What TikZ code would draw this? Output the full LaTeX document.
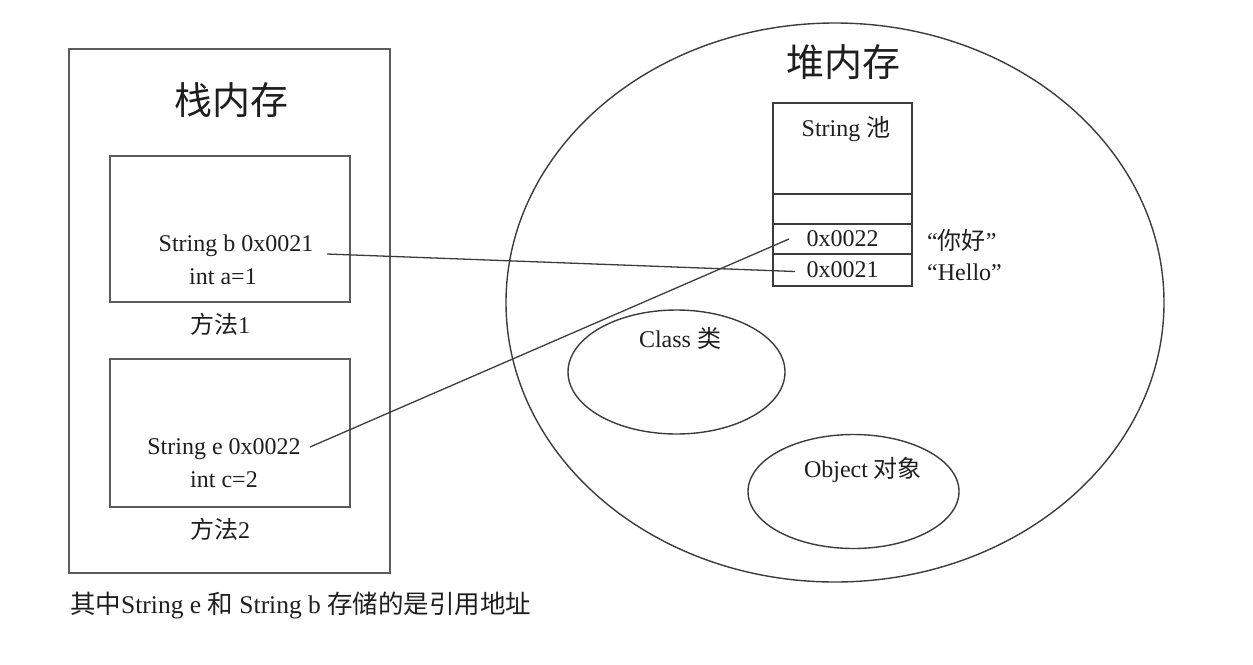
\documentclass[tikz,border=0pt]{standalone}
\usepackage{fontspec}
\setmainfont{Liberation Serif}
\newfontfamily\cjk{Noto Sans CJK SC}
\usetikzlibrary{shapes.geometric}
\definecolor{boxline}{HTML}{5C5C5C}
\definecolor{inkline}{HTML}{3C3C3C}
\definecolor{ink}{HTML}{1E1E1E}

\begin{document}
\begin{tikzpicture}[x=1pt,y=-1pt,
  frame/.style={draw=boxline, line width=2pt, inner sep=0pt},
  cell/.style={draw=inkline, line width=1.4pt, inner sep=0pt, minimum width=139pt,
               font=\fontsize{24}{28}\selectfont, text=ink},
  region/.style={ellipse, draw=inkline, line width=1.4pt, inner sep=0pt},
  txt/.style={inner sep=0pt, text=ink, font=\fontsize{24}{28}\selectfont},
  title/.style={inner sep=0pt, text=ink, font=\cjk\fontsize{38}{44}\selectfont},
  link/.style={draw=inkline, line width=1.3pt}]
\useasboundingbox (0,0) rectangle (1253,664);

% stack memory
\node[frame, minimum width=321pt, minimum height=524pt] (stack) at (229.5,311) {};
\node[title] (stacktitle) at (231,100) {栈内存};
\node[frame, minimum width=240pt, minimum height=146pt] (m1) at (230,229) {};
\node[txt] (sb) at (236,246) {String b 0x0021};
\node[txt] (ia) at (223,277) {int a=1};
\node[txt] (m1name) at (220,324) {{\cjk 方法}1};
\node[frame, minimum width=240pt, minimum height=148pt] (m2) at (230,433) {};
\node[txt] (se) at (224,449) {String e 0x0022};
\node[txt] (ic) at (224,480) {int c=2};
\node[txt] (m2name) at (220,529) {{\cjk 方法}2};

% heap memory
\node[region, minimum width=658pt, minimum height=559pt] (heap) at (835,302.5) {};
\node[title] (heaptitle) at (843,62) {堆内存};

% string pool
\node[cell, minimum height=91pt] (pool) at (842.5,148.5) {};
\node[txt] (pooltitle) at (846,129) {String {\cjk 池}};
\node[cell, minimum height=30pt] (slot) at (842.5,209) {};
\node[cell, minimum height=30pt] (r22) at (842.5,239) {0x0022};
\node[cell, minimum height=32pt] (r21) at (842.5,270) {0x0021};
\node[txt, anchor=west] (nihao) at (927,240) {“{\cjk 你好}”};
\node[txt, anchor=west] (hello) at (927,272) {“Hello”};

% class and object areas
\node[region, minimum width=217pt, minimum height=124pt] (cls) at (676.5,372) {};
\node[txt] (clstext) at (680,338) {Class {\cjk 类}};
\node[region, minimum width=211pt, minimum height=114pt] (obj) at (853.5,491.5) {};
\node[txt] (objtext) at (863,470) {Object {\cjk 对象}};

% references from the stack into the pool
\coordinate (bfrom) at (327,254);
\coordinate (bto) at (795,271.5);
\coordinate (efrom) at (310,447);
\coordinate (eto) at (789,239);
\draw[link] (bfrom) -- (bto);
\draw[link] (efrom) -- (eto);

\node[txt, anchor=west, font=\fontsize{25.5}{30}\selectfont] (note) at (70,605)
  {{\cjk 其中}String e {\cjk 和} String b {\cjk 存储的是引用地址}};
\end{tikzpicture}
\end{document}
